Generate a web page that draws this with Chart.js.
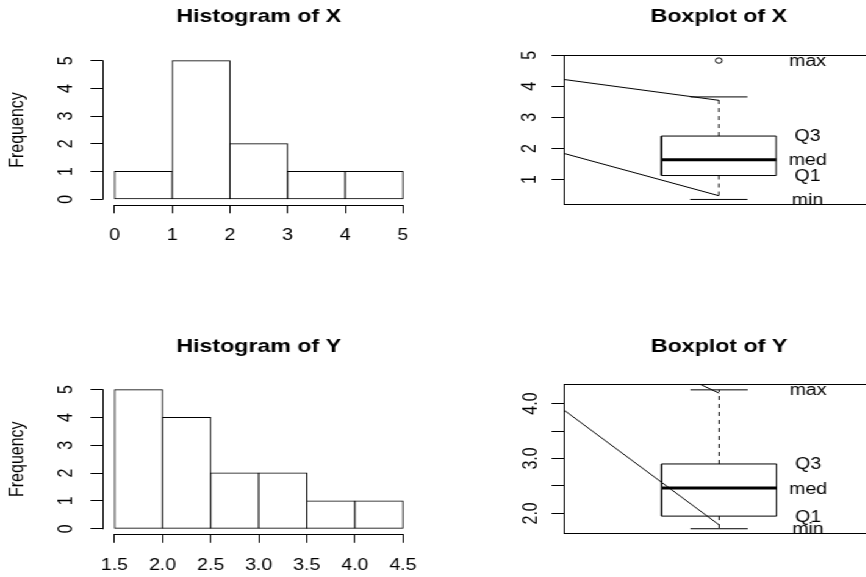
<!DOCTYPE html>
<html><head><meta charset="utf-8">
<script src="https://cdn.jsdelivr.net/npm/chart.js@4.4.1/dist/chart.umd.min.js"></script>
<style>
html,body{margin:0;padding:0;background:#fff;overflow:hidden;width:866px;height:577px;}
#wrap{position:absolute;left:0;top:0;transform-origin:0 0;}
canvas{position:absolute;}
</style></head><body><div id="wrap">
<canvas id="hx"></canvas><canvas id="bx"></canvas><canvas id="hy"></canvas><canvas id="by"></canvas>
</div>
<script>
// ---------------- data ----------------
const histXBreaks = [0, 1, 2, 3, 4, 5];
const histXCounts = [1, 5, 2, 1, 1];
const histXTicks = [0, 1, 2, 3, 4, 5];
const histXTickLabels = ['0', '1', '2', '3', '4', '5'];

const histYBreaks = [1.5, 2.0, 2.5, 3.0, 3.5, 4.0, 4.5];
const histYCounts = [5, 4, 2, 2, 1, 1];
const histYTicks = [1.5, 2.0, 2.5, 3.0, 3.5, 4.0, 4.5];
const histYTickLabels = ['1.5', '2.0', '2.5', '3.0', '3.5', '4.0', '4.5'];

const freqTicks = [0, 1, 2, 3, 4, 5];
const freqTickLabels = ['0', '1', '2', '3', '4', '5'];

// lower whisker, Q1, median, Q3, upper whisker
const boxXStats = [0.36, 1.13, 1.64, 2.40, 3.66];
const boxXOutliers = [4.83];
const boxXLabelValues = [0.36, 1.13, 1.64, 2.40, 4.83];
const boxXLines = [[[0.46, 4.22], [1, 3.55]], [[0.46, 1.84], [1, 0.48]]];
const boxXTicks = [1, 2, 3, 4, 5];
const boxXTickLabels = ['1', '2', '3', '4', '5'];

const boxYStats = [1.72, 1.95, 2.46, 2.90, 4.25];
const boxYOutliers = [];
const boxYLabelValues = [1.72, 1.95, 2.46, 2.90, 4.25];
const boxYLines = [[[0.46, 3.88], [1, 1.79]], [[0.934, 4.351], [1, 4.19]]];
const boxYTicks = [2.0, 2.5, 3.0, 3.5, 4.0];
const boxYTickLabels = ['2.0', '', '3.0', '', '4.0'];

const boxLabelTexts = ['min', 'Q1', 'med', 'Q3', 'max'];
const boxLabelX = 1.31;

// ---------------- setup ----------------
const S = 1.22;           // horizontal stretch of the reference picture
const FAM = "'Liberation Sans', Arial, Helvetica, sans-serif";
const LH_T = 19 * 1.2, LH = 16 * 1.2;
Chart.defaults.font.family = FAM;
Chart.defaults.font.size = 16;
Chart.defaults.color = '#000';
Chart.defaults.animation = false;
Chart.defaults.events = [];
Chart.defaults.plugins.legend.display = false;
Chart.defaults.plugins.tooltip.enabled = false;
document.getElementById('wrap').style.transform = 'scaleX(' + S + ')';

function rExtend(lo, hi) { const d = (hi - lo) * 0.04; return [lo - d, hi + d]; }
function widest(labels) {
  const c = document.createElement('canvas').getContext('2d');
  c.font = 'normal 16px ' + FAM;
  return Math.max(...labels.map(t => c.measureText(t).width));
}
function setupCanvas(id, rect) {
  const c = document.getElementById(id);
  c.width = Math.round(rect.w / S); c.height = rect.h;
  c.style.left = (rect.x / S) + 'px'; c.style.top = rect.y + 'px';
  c.style.width = c.width + 'px'; c.style.height = c.height + 'px';
  return c;
}
function titleFor(text, rect, area, cy) {
  const pt = cy - rect.y - LH_T / 2;
  return { display: true, text, fullSize: false, color: '#000',
    font: { size: 19, weight: 'bold' }, padding: { top: pt, bottom: area.t - rect.y - pt - LH_T } };
}
function yScale(range, ticks, labels, rect, area, labelCx, title) {
  const tl = 12.5 / S;
  const D = (area.l - labelCx) / S;
  return {
    type: 'linear', position: 'left', min: range[0], max: range[1],
    afterBuildTicks: s => { s.ticks = ticks.map(v => ({ value: v })); },
    afterFit: s => { s.width = (area.l - rect.x) / S; },
    ticks: { autoSkip: false, minRotation: 90, maxRotation: 90, crossAlign: 'center',
      padding: D - tl - widest(labels) / 2, callback: (v, i) => labels[i] },
    grid: { drawOnChartArea: false, drawTicks: true, tickLength: tl, color: '#000', lineWidth: 1 },
    border: { display: false },
    title: title ? { display: true, text: title, font: { size: 16 }, color: '#000',
      padding: { top: 18.3 / S - LH / 2, bottom: 0 } } : { display: false }
  };
}
function xScale(range, ticks, labels, rect, area) {
  return {
    type: 'linear', position: 'bottom', min: range[0], max: range[1], offset: false,
    afterBuildTicks: s => { s.ticks = ticks.map(v => ({ value: v })); },
    afterFit: s => { s.height = rect.y + rect.h - area.b; },
    ticks: { autoSkip: false, minRotation: 0, maxRotation: 0, padding: 13, callback: (v, i) => labels[i] },
    grid: { offset: false, drawOnChartArea: false, drawTicks: true, tickLength: 8.5, color: '#000', lineWidth: 1 },
    border: { display: false }
  };
}
const rAxisLines = {
  id: 'rAxisLines',
  afterDraw(chart, args, opts) {
    const ctx = chart.ctx;
    ctx.save(); ctx.strokeStyle = '#000'; ctx.lineWidth = 1;
    for (const id of opts.axes || ['x', 'y']) {
      const sc = chart.scales[id];
      if (!sc || !sc.options.display) continue;
      const p0 = sc.getPixelForValue(sc.ticks[0].value), p1 = sc.getPixelForValue(sc.ticks[sc.ticks.length - 1].value);
      ctx.beginPath();
      if (sc.isHorizontal()) { const y = Math.round(sc.top) + 0.5; ctx.moveTo(Math.min(p0, p1) - 0.5, y); ctx.lineTo(Math.max(p0, p1) + 0.5, y); }
      else { const x = Math.round(sc.right) + 0.5; ctx.moveTo(x, Math.max(p0, p1) + 0.5); ctx.lineTo(x, Math.min(p0, p1) - 0.5); }
      ctx.stroke();
    }
    ctx.restore();
  }
};
const frame = {
  id: 'frame',
  afterDatasetsDraw(chart) {
    const { ctx, chartArea: a } = chart;
    ctx.save(); ctx.strokeStyle = '#000'; ctx.lineWidth = 1;
    const l = Math.round(a.left) + 0.5, t = Math.round(a.top) + 0.5, r = Math.round(a.right) - 0.5, b = Math.round(a.bottom) - 0.5;
    ctx.strokeRect(l, t, r - l, b - t);
    ctx.restore();
  }
};
const boxLabels = {
  id: 'boxLabels',
  afterDatasetsDraw(chart, args, opts) {
    const { ctx, chartArea: a } = chart; const xs = chart.scales.x, ys = chart.scales.y;
    ctx.save(); ctx.beginPath(); ctx.rect(a.left, a.top, a.right - a.left, a.bottom - a.top); ctx.clip();
    ctx.font = 'normal 16px ' + FAM; ctx.fillStyle = '#000'; ctx.textAlign = 'center'; ctx.textBaseline = 'middle';
    opts.texts.forEach((t, i) => ctx.fillText(t, xs.getPixelForValue(opts.x), ys.getPixelForValue(opts.values[i]) + 1));
    ctx.restore();
  }
};

function histChart(id, rect, area, titleY, titleText, breaks, counts, xt, xtl, ylabCx) {
  const c = setupCanvas(id, rect);
  new Chart(c, {
    type: 'bar',
    data: { datasets: [{
      data: counts.map((v, i) => ({ x: (breaks[i] + breaks[i + 1]) / 2, y: v })),
      backgroundColor: '#fff', borderColor: '#000', borderSkipped: false, inflateAmount: 0.5,
      borderWidth: 1, barPercentage: 1, categoryPercentage: 1
    }] },
    options: {
      responsive: false, devicePixelRatio: 1,
      layout: { padding: { left: 0, top: 0, bottom: 0, right: c.width - (area.r - rect.x) / S } },
      plugins: { title: titleFor(titleText, rect, area, titleY), rAxisLines: { axes: ['x', 'y'] } },
      scales: {
        x: xScale(rExtend(breaks[0], breaks[breaks.length - 1]), xt, xtl, rect, area),
        y: yScale(rExtend(0, Math.max(...counts)), freqTicks, freqTickLabels, rect, area, ylabCx, 'Frequency')
      }
    },
    plugins: [rAxisLines]
  });
}

function boxChart(id, rect, area, titleY, titleText, stats, outliers, lines, labelVals, yt, ytl, ylabCx) {
  const c = setupCanvas(id, rect);
  const [lo, q1, med, q3, hi] = stats;
  const hw = 0.2, sw = 0.1;
  const seg = (pts, extra) => Object.assign({ type: 'scatter', showLine: true, pointRadius: 0,
    borderColor: '#000', borderWidth: 1, fill: false, tension: 0, data: pts.map(p => ({ x: p[0], y: p[1] })) }, extra || {});
  const all = [lo, hi, ...outliers];
  const datasets = [
    seg([[1, q3], [1, hi]], { borderDash: [4, 4] }),
    seg([[1, q1], [1, lo]], { borderDash: [4, 4] }),
    seg([[1 - sw, hi], [1 + sw, hi]]),
    seg([[1 - sw, lo], [1 + sw, lo]]),
    seg([[1 - hw, q1], [1 + hw, q1], [1 + hw, q3], [1 - hw, q3], [1 - hw, q1]]),
    seg([[1 - hw, med], [1 + hw, med]], { borderWidth: 3 }),
    { type: 'scatter', showLine: false, pointRadius: 2.7, pointStyle: 'circle', borderColor: '#000',
      backgroundColor: 'rgba(0,0,0,0)', borderWidth: 1, data: outliers.map(v => ({ x: 1, y: v })) },
    ...lines.map(l => seg(l))
  ];
  new Chart(c, {
    type: 'scatter',
    data: { datasets },
    options: {
      responsive: false, devicePixelRatio: 1,
      layout: { padding: { left: 0, top: 0, bottom: rect.y + rect.h - area.b, right: c.width - (area.r - rect.x) / S } },
      plugins: { title: titleFor(titleText, rect, area, titleY), rAxisLines: { axes: [] },
        boxLabels: { texts: boxLabelTexts, values: labelVals, x: boxLabelX } },
      scales: {
        x: { type: 'linear', display: false, min: rExtend(0.5, 1.5)[0], max: rExtend(0.5, 1.5)[1] },
        y: yScale(rExtend(Math.min(...all), Math.max(...all)), yt, ytl, rect, area, ylabCx, null)
      }
    },
    plugins: [frame, boxLabels]
  });
}

histChart('hx', { x: 0, y: 0, w: 433, h: 289 }, { l: 103, t: 55.2, r: 414.5, b: 204.8 }, 16.7,
  'Histogram of X', histXBreaks, histXCounts, histXTicks, histXTickLabels, 66.5);
boxChart('bx', { x: 433, y: 0, w: 447, h: 289 }, { l: 564, t: 55, r: 874, b: 205 }, 16.7,
  'Boxplot of X', boxXStats, boxXOutliers, boxXLines, boxXLabelValues, boxXTicks, boxXTickLabels, 529.5);
histChart('hy', { x: 0, y: 289, w: 433, h: 288 }, { l: 103, t: 384.1, r: 414.5, b: 534.3 }, 346.7,
  'Histogram of Y', histYBreaks, histYCounts, histYTicks, histYTickLabels, 66);
boxChart('by', { x: 433, y: 289, w: 447, h: 288 }, { l: 564, t: 384.3, r: 874, b: 534.3 }, 346.7,
  'Boxplot of Y', boxYStats, boxYOutliers, boxYLines, boxYLabelValues, boxYTicks, boxYTickLabels, 531);
</script>
</body></html>
